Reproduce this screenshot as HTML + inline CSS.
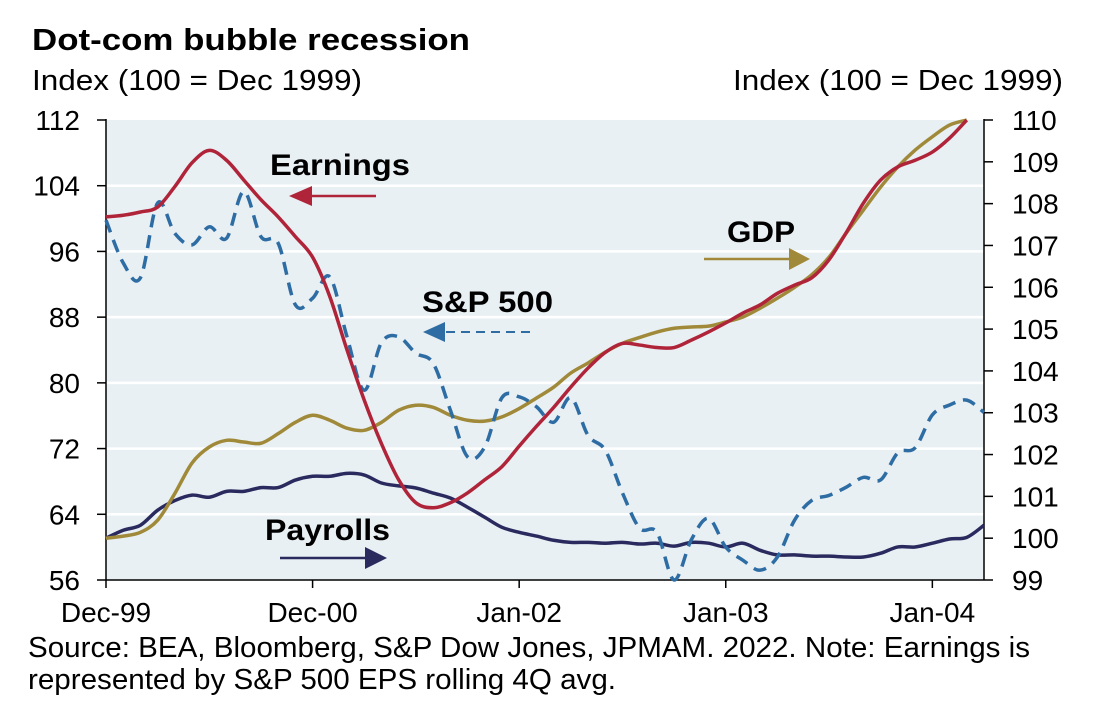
<!DOCTYPE html>
<html><head><meta charset="utf-8"><style>
body{margin:0;background:#fff;}
svg{display:block;font-family:"Liberation Sans",Arial,sans-serif;}
</style></head><body>
<svg id="chart" width="1094" height="708" viewBox="0 0 1094 708">
<text x="32" y="50" font-size="31" font-weight="bold" fill="#000" textLength="438" lengthAdjust="spacingAndGlyphs">Dot-com bubble recession</text>
<text x="32" y="90" font-size="29" fill="#000" textLength="330" lengthAdjust="spacingAndGlyphs">Index (100 = Dec 1999)</text>
<text x="733" y="90" font-size="29" fill="#000" textLength="330" lengthAdjust="spacingAndGlyphs">Index (100 = Dec 1999)</text>
<rect x="106" y="120" width="878" height="460" fill="#e9f0f4"/>
<g id="grid"></g>
<g id="axes"></g>
<g id="series"></g>
<g>
<text x="270" y="175" font-size="30" font-weight="bold" textLength="140" lengthAdjust="spacingAndGlyphs">Earnings</text>
<line x1="376" y1="196" x2="300" y2="196" stroke="#b0243a" stroke-width="2.5"/>
<polygon points="289,196 312,186 312,206" fill="#b0243a"/>
<text x="422" y="312" font-size="30" font-weight="bold" textLength="131" lengthAdjust="spacingAndGlyphs">S&amp;P 500</text>
<line x1="530" y1="332" x2="440" y2="332" stroke="#2e6da4" stroke-width="2" stroke-dasharray="9 6"/>
<polygon points="423,332 445,322 445,342" fill="#2e6da4"/>
<text x="727" y="242" font-size="30" font-weight="bold" textLength="68" lengthAdjust="spacingAndGlyphs">GDP</text>
<line x1="704" y1="259" x2="796" y2="259" stroke="#a08a3a" stroke-width="2.5"/>
<polygon points="810,259 789,248 789,270" fill="#a08a3a"/>
<text x="265" y="540" font-size="30" font-weight="bold" textLength="125" lengthAdjust="spacingAndGlyphs">Payrolls</text>
<line x1="280" y1="558" x2="372" y2="558" stroke="#2b2a5e" stroke-width="2.5"/>
<polygon points="387,558 365,547 365,569" fill="#2b2a5e"/>
</g>
<text x="28" y="657" font-size="29" textLength="1002" lengthAdjust="spacingAndGlyphs">Source: BEA, Bloomberg, S&amp;P Dow Jones, JPMAM. 2022. Note: Earnings is</text>
<text x="28" y="689" font-size="29" textLength="588" lengthAdjust="spacingAndGlyphs">represented by S&amp;P 500 EPS rolling 4Q avg.</text>
</svg>
<script>
const xTickLabels = ["Dec-99","Dec-00","Jan-02","Jan-03","Jan-04"];
const xTickMonths = [0,12,24,36,48];
const leftTicks = [56,64,72,80,88,96,104,112];
const rightTicks = [99,100,101,102,103,104,105,106,107,108,109,110];
const earnings = [100.2,100.4,100.8,101.4,103.9,106.8,108.3,107.1,104.7,102.3,100.2,97.8,95.3,90.5,84,77.9,72.6,68.2,65.4,64.8,65.4,66.6,68.2,69.8,72.3,74.7,77,79.5,81.8,83.7,84.8,84.6,84.3,84.3,85.2,86.2,87.3,88.5,89.5,90.9,91.9,92.8,95,98.3,101.9,104.7,106.3,107.1,108.1,109.8,112];
const sp500 = [99.8,94.6,92.8,101.9,98.2,96.8,99,97.6,103.3,97.8,97,89.5,90.3,92.9,85.6,79.1,84.9,85.6,83.6,82.4,76.7,71,72.2,78.2,78.3,77.1,75.2,78.2,73.6,71.8,66.6,62.3,61.8,56,60.9,63.5,60,58.4,57.2,58.8,63.3,65.7,66.3,67.3,68.5,68.2,71.5,72.1,76.1,77.3,77.9,76.4];
const gdp = [100,100.05,100.14,100.43,101.07,101.8,102.18,102.34,102.3,102.27,102.5,102.77,102.94,102.82,102.63,102.58,102.77,103.06,103.18,103.13,102.94,102.82,102.8,102.9,103.1,103.35,103.61,103.95,104.19,104.45,104.66,104.8,104.93,105.02,105.05,105.07,105.17,105.29,105.5,105.74,106,106.3,106.72,107.3,107.85,108.4,108.88,109.28,109.6,109.88,110];
const payrolls = [100,100.19,100.31,100.67,100.9,101.03,100.98,101.12,101.12,101.21,101.21,101.39,101.48,101.48,101.55,101.51,101.32,101.25,101.2,101.08,100.96,100.74,100.5,100.26,100.14,100.05,99.95,99.9,99.9,99.88,99.9,99.86,99.88,99.81,99.9,99.88,99.79,99.88,99.71,99.6,99.6,99.57,99.57,99.55,99.55,99.64,99.79,99.79,99.88,99.98,100.02,100.31];

const NS='http://www.w3.org/2000/svg';
const X0=106,X1=984,Y0=120,Y1=580,XMAX=51;
function xs(m){return X0+(X1-X0)*m/XMAX;}
function yl(v){return Y1-(v-56)/(112-56)*(Y1-Y0);}
function yr(v){return Y1-(v-99)/(110-99)*(Y1-Y0);}
function mk(tag,attrs,parent){const e=document.createElementNS(NS,tag);for(const k in attrs)e.setAttribute(k,attrs[k]);parent.appendChild(e);return e;}
const grid=document.getElementById('grid'),axes=document.getElementById('axes'),ser=document.getElementById('series');
leftTicks.forEach(v=>{
  if(v!==56&&v!==112){const g=mk('line',{x1:X0,x2:X1,y1:yl(v),y2:yl(v),stroke:'#fff','stroke-width':2.5},grid);
  
  }
  const t=mk('line',{x1:X0-9,x2:X0,y1:yl(v),y2:yl(v),stroke:'#000','stroke-width':1.5},axes);
  
  
  const l=mk('text',{x:X0-26,y:yl(v)+10,'font-size':28,'text-anchor':'end'},axes);l.textContent=v;
  
  
});
rightTicks.forEach(v=>{
  const t=mk('line',{x1:X1,x2:X1+9,y1:yr(v),y2:yr(v),stroke:'#000','stroke-width':1.5},axes);
  
  
  const l=mk('text',{x:X1+28,y:yr(v)+10,'font-size':28},axes);l.textContent=v;
  
  
});
xTickMonths.forEach((m,i)=>{
  const t=mk('line',{x1:xs(m),x2:xs(m),y1:Y1,y2:Y1+8,stroke:'#000','stroke-width':1.5},axes);
  
  
  const l=mk('text',{x:xs(m),y:Y1+42,'font-size':28,'text-anchor':'middle'},axes);l.textContent=xTickLabels[i];
  
  
});
const la=mk('line',{x1:X0,x2:X0,y1:Y0-1,y2:Y1,stroke:'#000','stroke-width':1.5},axes);


const ra=mk('line',{x1:X1,x2:X1,y1:Y0-1,y2:Y1,stroke:'#000','stroke-width':1.5},axes);


const xa=mk('line',{x1:X0,x2:X1,y1:Y1,y2:Y1,stroke:'#000','stroke-width':1.5},axes);


function path(arr,yf){
  const p=arr.map((v,i)=>[xs(i),yf(v)]);
  let d='M'+p[0][0]+','+p[0][1];
  for(let i=0;i<p.length-1;i++){
    const a=p[Math.max(i-1,0)],b=p[i],c=p[i+1],e=p[Math.min(i+2,p.length-1)];
    const c1=[b[0]+(c[0]-a[0])/6,b[1]+(c[1]-a[1])/6],c2=[c[0]-(e[0]-b[0])/6,c[1]-(e[1]-b[1])/6];
    d+=' C'+c1[0]+','+c1[1]+' '+c2[0]+','+c2[1]+' '+c[0]+','+c[1];
  }
  return d;
}
const s1=mk('path',{d:path(payrolls,yr),fill:'none',stroke:'#2b2a5e','stroke-width':3.5},ser);


const s2=mk('path',{d:path(gdp,yr),fill:'none',stroke:'#a08a3a','stroke-width':3.5},ser);


const s3=mk('path',{d:path(sp500,yl),fill:'none',stroke:'#2e6da4','stroke-width':3.5,'stroke-dasharray':'13 8'},ser);


const s4=mk('path',{d:path(earnings,yl),fill:'none',stroke:'#b0243a','stroke-width':3.5},ser);


</script>
</body></html>
